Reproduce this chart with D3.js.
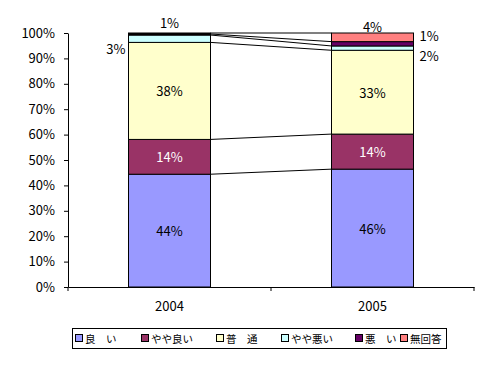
<!DOCTYPE html>
<html><head><meta charset="utf-8">
<script src="https://cdn.jsdelivr.net/npm/d3@7"></script>
<style>body{margin:0;background:#fff}svg{display:block}</style>
</head><body>
<svg id="c" width="501" height="372"></svg>
<script>
const categories = ["2004", "2005"];
const seriesNames = ["良　い", "やや良い", "普　通", "やや悪い", "悪　い", "無回答"];
const seriesColors = ["#9999FF", "#993366", "#FFFFCC", "#CCFFFF", "#660066", "#FF8080"];
const values2004 = [44.4, 13.7, 38.2, 2.9, 0.4, 0.4];
const values2005 = [46.4, 13.8, 33.0, 1.7, 1.7, 3.4];
const labels2004 = ["44%", "14%", "38%", "3%", "", "1%"];
const labels2005 = ["46%", "14%", "33%", "2%", "1%", "4%"];
const yTicks = [0, 10, 20, 30, 40, 50, 60, 70, 80, 90, 100];

const svg = d3.select("#c");
const font = "'Noto Sans CJK JP', sans-serif";
const x = d3.scaleBand().domain(categories).range([68, 474]).paddingInner(0).paddingOuter(0);
const y = d3.scaleLinear().domain([0, 100]).range([287, 33]);
const barW = 82;

const data = [values2004, values2005];
const labs = [labels2004, labels2005];
const stacks = data.map(vals => { let c = 0; return vals.map(v => { const s = c; c += v; return [s, c]; }); });

// series lines
const g = svg.append("g");
for (let k = 0; k < seriesNames.length; k++) {
  const x1 = x("2004") + x.bandwidth() / 2 + barW / 2;
  const x2 = x("2005") + x.bandwidth() / 2 - barW / 2;
  g.append("line").attr("x1", x1).attr("x2", x2)
    .attr("y1", y(stacks[0][k][1])).attr("y2", y(stacks[1][k][1]))
    .attr("stroke", "#000").attr("stroke-width", 1);
}
// bars
categories.forEach((cat, i) => {
  const cx = x(cat) + x.bandwidth() / 2;
  stacks[i].forEach((s, k) => {
    g.append("rect").attr("x", cx - barW / 2).attr("width", barW)
      .attr("y", y(s[1])).attr("height", y(s[0]) - y(s[1]))
      .attr("fill", seriesColors[k]).attr("stroke", "#000").attr("stroke-width", 1);
  });
});
// labels
const lbl = (tx, ty, t, col, anchor) => svg.append("text").attr("x", tx).attr("y", ty)
  .attr("text-anchor", anchor || "middle").attr("font-family", font).attr("font-size", 13)
  .attr("fill", col || "#000").attr("dominant-baseline", "central").text(t);
categories.forEach((cat, i) => {
  const cx = x(cat) + x.bandwidth() / 2;
  for (let k = 0; k < 3; k++) {
    const s = stacks[i][k];
    lbl(cx, y((s[0] + s[1]) / 2), labs[i][k], k === 1 ? "#fff" : "#000");
  }
});
lbl(x("2004") + x.bandwidth()/2 - barW/2 - 3, 48, labels2004[3], "#000", "end");
lbl(x("2004") + x.bandwidth()/2, 22, labels2004[5]);
lbl(x("2005") + x.bandwidth()/2, 26, labels2005[5]);
lbl(x("2005") + x.bandwidth()/2 + barW/2 + 6, 35, labels2005[4], "#000", "start");
lbl(x("2005") + x.bandwidth()/2 + barW/2 + 6, 55, labels2005[3], "#000", "start");

// axes
const ya = svg.append("g").attr("transform", "translate(68,0)")
  .call(d3.axisLeft(y).tickValues(yTicks).tickFormat(d => d + "%").tickSize(4).tickSizeOuter(0));
const xa = svg.append("g").attr("transform", "translate(0,287)")
  .call(d3.axisBottom(x).tickSize(0).tickSizeOuter(0));
xa.selectAll("text").attr("dy", "0").attr("y", 18).attr("dominant-baseline", "central");
[68, 271, 474].forEach(t => xa.append("line").attr("x1", t).attr("x2", t).attr("y1", 0).attr("y2", 4).attr("stroke", "#000"));
[ya, xa].forEach(a => {
  a.selectAll("path,line").attr("stroke", "#000").attr("stroke-width", 1);
  a.selectAll("text").attr("font-family", font).attr("font-size", 13).attr("fill", "#000");
});
ya.selectAll("text").attr("x", -13);

// legend
const lg = svg.append("g");
lg.append("rect").attr("x", 72.5).attr("y", 328.5).attr("width", 374).attr("height", 20)
  .attr("fill", "#fff").attr("stroke", "#000");
const lx = [75, 141, 216, 281, 355, 400];
seriesNames.forEach((n, k) => {
  lg.append("rect").attr("x", lx[k] + 0.5).attr("y", 334.5).attr("width", 7).attr("height", 7)
    .attr("fill", seriesColors[k]).attr("stroke", "#000");
  lg.append("text").attr("x", lx[k] + 10).attr("y", 338.5).attr("dominant-baseline", "central")
    .attr("font-family", font).attr("font-size", 10.5).attr("fill", "#000").text(n);
});
</script>
</body></html>
